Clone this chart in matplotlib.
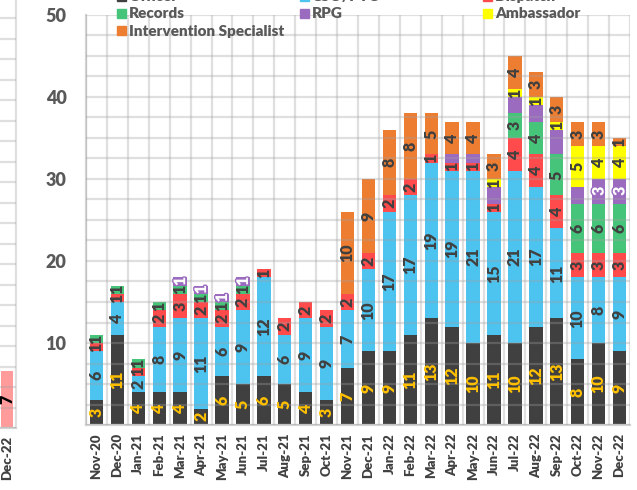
import matplotlib.pyplot as plt
import matplotlib.patheffects as pe
from matplotlib.patches import Rectangle
import numpy as np

plt.rcParams['font.family'] = ['Lato', 'DejaVu Sans']

months = ['Nov-20', 'Dec-20', 'Jan-21', 'Feb-21', 'Mar-21', 'Apr-21', 'May-21',
          'Jun-21', 'Jul-21', 'Aug-21', 'Sep-21', 'Oct-21', 'Nov-21', 'Dec-21',
          'Jan-22', 'Feb-22', 'Mar-22', 'Apr-22', 'May-22', 'Jun-22', 'Jul-22',
          'Aug-22', 'Sep-22', 'Oct-22', 'Nov-22', 'Dec-22']
officer = [3, 11, 4, 4, 4, 2, 6, 5, 6, 5, 4, 3, 7, 9, 9, 11, 13, 12, 10, 11, 10, 12, 13, 8, 10, 9]
cso = [6, 4, 2, 8, 9, 11, 6, 9, 12, 6, 9, 9, 7, 10, 17, 17, 19, 19, 21, 15, 21, 17, 11, 10, 8, 9]
dispatch = [1, 1, 1, 2, 3, 2, 2, 2, 1, 2, 2, 2, 2, 2, 2, 2, 1, 1, 1, 1, 4, 4, 4, 3, 3, 3]
records = [1, 1, 1, 1, 1, 1, 1, 1, 0, 0, 0, 0, 0, 0, 0, 0, 0, 0, 0, 0, 3, 4, 5, 6, 6, 6]
rpg = [0, 0, 0, 0, 1, 1, 1, 1, 0, 0, 0, 0, 0, 0, 0, 0, 0, 1, 1, 2, 2, 2, 3, 2, 3, 3]
ambassador = [0, 0, 0, 0, 0, 0, 0, 0, 0, 0, 0, 0, 0, 0, 0, 0, 0, 0, 0, 1, 1, 1, 1, 5, 4, 4]
intervention = [0, 0, 0, 0, 0, 0, 0, 0, 0, 0, 0, 0, 10, 9, 8, 8, 5, 4, 4, 3, 4, 3, 3, 3, 3, 1]
rpg_unlabeled = ['Apr-22', 'May-22', 'Jun-22', 'Jul-22', 'Aug-22', 'Sep-22', 'Oct-22']

names = ['Officer', 'CSO/PTO', 'Dispatch', 'Records', 'RPG', 'Ambassador',
         'Intervention Specialist']
colors = ['#404040', '#4DC3F0', '#FF4B4B', '#46C47A', '#9B6BBF', '#FFFF00', '#ED7D31']
label_colors = ['#FFC000', '#404040', '#404040', '#404040', 'white', '#404040', '#404040']

# left neighbour chart (only its last bar shows)
prev_month = ['Dec-22']
prev_value = [7]

W, H = 637, 490
fig = plt.figure(figsize=(W / 100, H / 100), dpi=100)
grid_col = '#A0A0A0'
BOLD = 'heavy'


def style_axes(a, ymax):
    a.set_ylim(0, ymax)
    a.set_yticks(np.arange(0, ymax + 0.01, 2.5), minor=True)
    a.set_axisbelow(False)
    a.yaxis.grid(True, which='both', color=grid_col, alpha=0.33, lw=1.6)
    a.xaxis.grid(True, which='minor', color=grid_col, alpha=0.33, lw=1.6)
    a.tick_params(which='both', length=0)
    for s in ['top', 'right']:
        a.spines[s].set_visible(False)
    for s in ['left', 'bottom']:
        a.spines[s].set_color('#D4D4D4')
        a.spines[s].set_linewidth(1.6)


# main chart
ax = fig.add_axes([86 / W, (H - 425) / H, 544 / W, 410 / H])
n = len(months)
x = np.arange(n)
series = [officer, cso, dispatch, records, rpg, ambassador, intervention]
bottom = np.zeros(n)
for k, vals in enumerate(series):
    vals = np.array(vals)
    ax.bar(x, vals, 0.64, bottom=bottom, color=colors[k], zorder=1)
    for i, v in enumerate(vals):
        if v == 0:
            continue
        if k == 4 and months[i] in rpg_unlabeled:
            continue
        t = ax.text(x[i], bottom[i] + v / 2, str(v), rotation=90, ha='center',
                    va='center', fontsize=11.5, fontweight=BOLD,
                    color=label_colors[k], zorder=4)
        if k == 4:
            t.set_path_effects([pe.Stroke(linewidth=2, foreground='#9B6BBF'), pe.Normal()])
    bottom += vals

style_axes(ax, 50)
ax.set_xlim(-0.5, n - 0.5)
ax.set_xticks(np.arange(-0.5, n), minor=True)
ax.set_xticks(x)
ax.set_xticklabels(months, rotation=90, fontsize=9.5, fontweight=BOLD, color='#404040')
ax.set_yticks([10, 20, 30, 40, 50])
ax.set_yticklabels(['10', '20', '30', '40', '50'], fontsize=13, fontweight=BOLD,
                   color='#595959')
ax.tick_params(axis='y', pad=14)
ax.tick_params(axis='x', pad=6)

# partial chart on the left edge
ax2 = fig.add_axes([-56 / W, (H - 428) / H, 72 / W, 428 / H])
ax2.bar([0], prev_value, 0.66, color='#FF9B9B', zorder=1)
ax2.text(0, prev_value[0] / 2, str(prev_value[0]), rotation=90, ha='center', va='center',
         fontsize=11.5, fontweight=BOLD, color='black', zorder=4)
style_axes(ax2, 52.2)
ax2.set_xlim(-3.5, 0.5)
ax2.set_xticks(np.arange(-3.5, 0.6), minor=True)
ax2.set_xticks([0])
ax2.set_xticklabels(prev_month, rotation=90, fontsize=9.5, fontweight=BOLD, color='#404040')
ax2.tick_params(axis='x', pad=6)
ax2.set_yticks([])
ax2.spines['left'].set_visible(False)
ax2.spines['right'].set_visible(True)
ax2.spines['right'].set_color('#E0E0E0')

# legend, three columns in rows
col_x = [117, 300, 483]
row_y = [-3, 14, 31]
for j, name in enumerate(names):
    r, c = divmod(j, 3)
    px, py = col_x[c], row_y[r]
    fig.patches.append(Rectangle((px / W, 1 - (py + 4.5) / H), 9 / W, 9 / H,
                                 transform=fig.transFigure, color=colors[j]))
    fig.text((px + 12) / W, 1 - py / H, name, ha='left', va='center', fontsize=11,
             fontweight=BOLD, color='#595959')

fig.savefig('out.png', dpi=100)
